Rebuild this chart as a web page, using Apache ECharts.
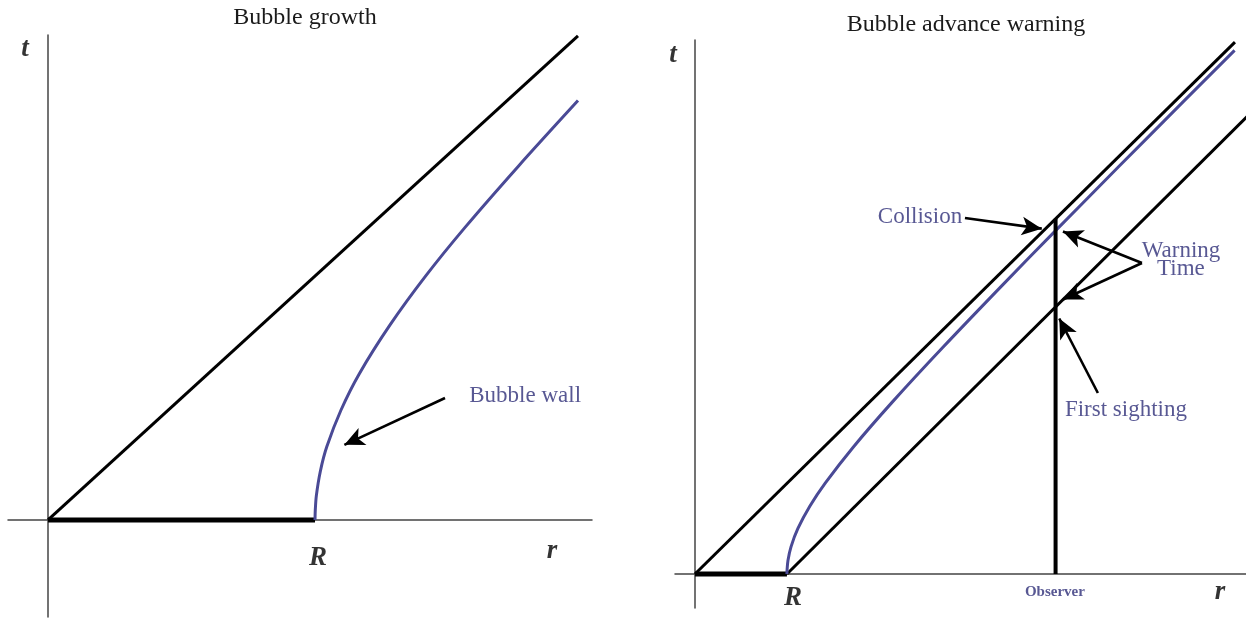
<!DOCTYPE html>
<html>
<head>
<meta charset="utf-8">
<title>Bubble growth / Bubble advance warning</title>
<script src="https://cdn.jsdelivr.net/npm/echarts@6/dist/echarts.min.js"></script>
<style>
  html, body { margin: 0; padding: 0; background: #fff; }
  #chart { width: 1246px; height: 621px; }
</style>
</head>
<body>
<div id="chart"></div>
<script>
// ---- Left diagram: bubble growth (r horizontal, t vertical, R = 1) ----
const growthLightRay = [[0, 0], [1.985, 1.985]];
const growthNucleus = [[0, 0], [1, 0]];
const growthWallT = [0, 0.04, 0.1, 0.2, 0.3, 0.45, 0.6, 0.8, 1.0, 1.2, 1.45, 1.72];
const growthWallR = [1.0, 1.001, 1.005, 1.02, 1.044, 1.097, 1.166, 1.281, 1.414, 1.562, 1.761, 1.985];

// ---- Right diagram: advance warning for a distant observer ----
const warnRayOrigin = [[0, 0], [5.87, 5.87]];
const warnRayEdge = [[1, 0], [6.3, 5.35]];
const warnNucleus = [[0, 0], [1, 0]];
const warnWallT = [0, 0.04, 0.15, 0.3, 0.5, 0.75, 1.0, 1.4, 1.9, 2.5, 3.2, 3.79, 4.5, 5.2, 5.78];
const warnWallR = [1.0, 1.001, 1.011, 1.044, 1.118, 1.25, 1.414, 1.72, 2.147, 2.693, 3.353, 3.92, 4.61, 5.295, 5.866];
const observerR = 3.92;
const observerTop = 3.92;

// annotation text, placed in data units [r, t]
const growthNotes = [
  { name: 'Bubble wall', value: [1.787, 0.509], kind: 'note' },
  { name: 'R', value: [1.011, -0.156], kind: 'sym' },
  { name: 'r', value: [1.888, -0.127], kind: 'sym' },
  { name: 't', value: [-0.086, 1.932], kind: 'sym' }
];
const warnNotes = [
  { name: 'Collision', value: [2.446, 3.94], kind: 'note' },
  { name: 'Warning\nTime', value: [5.283, 3.466], kind: 'note' },
  { name: 'First sighting', value: [4.685, 1.81], kind: 'note' },
  { name: 'Observer', value: [3.913, -0.199], kind: 'small' },
  { name: 'R', value: [1.065, -0.265], kind: 'sym' },
  { name: 'r', value: [5.707, -0.199], kind: 'sym' },
  { name: 't', value: [-0.239, 5.728], kind: 'sym' }
];

// arrows: [from, to] in data units
const growthArrows = [
  [[1.487, 0.5], [1.11, 0.308]]
];
const warnArrows = [
  [[2.935, 3.929], [3.77, 3.812]],
  [[4.859, 3.433], [4.0, 3.78]],
  [[4.859, 3.433], [4.0, 3.03]],
  [[4.38, 1.998], [3.96, 2.82]]
];

const SERIF = "'Liberation Serif', 'Times New Roman', 'DejaVu Serif', serif";
const INK = '#000';
const WALL = '#4a4a96';
const NOTE = '#2e2e78';

function zip(rs, ts) { return rs.map((r, i) => [r, ts[i]]); }

function axisPair(gi, xmin, xmax, ymin, ymax) {
  const common = {
    type: 'value', gridIndex: gi,
    axisLine: { onZero: true, lineStyle: { color: '#444', width: 1.5 } },
    axisTick: { show: false }, axisLabel: { show: false }, splitLine: { show: false }
  };
  return [
    Object.assign({ min: xmin, max: xmax }, common),
    Object.assign({ min: ymin, max: ymax }, common)
  ];
}

function straight(gi, data, width, color) {
  return {
    type: 'line', xAxisIndex: gi, yAxisIndex: gi, data: data,
    showSymbol: false, symbol: 'none', silent: true,
    lineStyle: { color: color || INK, width: width }, z: 3
  };
}

function arrows(gi, list) {
  return {
    type: 'line', xAxisIndex: gi, yAxisIndex: gi, data: [], silent: true,
    markLine: {
      silent: true, animation: false,
      symbol: ['none', 'arrow'], symbolSize: [14, 20],
      label: { show: false },
      lineStyle: { color: INK, width: 2.6, type: 'solid' },
      emphasis: { disabled: true },
      data: list.map(a => [{ coord: a[0] }, { coord: a[1] }])
    }
  };
}

function notes(gi, list) {
  return {
    type: 'scatter', xAxisIndex: gi, yAxisIndex: gi, symbolSize: 0, silent: true, clip: false, z: 5,
    data: list.map(n => {
      let style;
      if (n.kind === 'note') style = { fontSize: 23, color: NOTE, fontFamily: SERIF, lineHeight: 18 };
      else if (n.kind === 'small') style = { fontSize: 15, color: NOTE, fontFamily: SERIF, fontWeight: 'bold' };
      else style = { fontSize: 27, color: INK, fontFamily: SERIF, fontWeight: 'bold', fontStyle: 'italic' };
      return {
        name: n.name, value: n.value,
        label: Object.assign({ show: true, position: 'inside', formatter: '{b}', align: 'center', verticalAlign: 'middle' }, style)
      };
    })
  };
}

const ax0 = axisPair(0, -0.15, 2.0375, -0.398, 1.989);
const ax1 = axisPair(1, -0.217, 5.99, -0.375, 5.894);

const option = {
  animation: false,
  backgroundColor: '#fff',
  title: [
    { text: 'Bubble growth', left: 300, top: 1, textAlign: 'center',
      textStyle: { fontFamily: SERIF, fontSize: 24, fontWeight: 'normal', color: '#1a1a1a' } },
    { text: 'Bubble advance warning', left: 961, top: 8, textAlign: 'center',
      textStyle: { fontFamily: SERIF, fontSize: 24, fontWeight: 'normal', color: '#1a1a1a' } }
  ],
  grid: [
    { left: 8, top: 35, width: 584, height: 582 },
    { left: 675, top: 40, width: 571, height: 568 }
  ],
  xAxis: [ax0[0], ax1[0]],
  yAxis: [ax0[1], ax1[1]],
  series: [
    straight(0, growthLightRay, 3),
    straight(0, growthNucleus, 5),
    Object.assign(straight(0, zip(growthWallR, growthWallT), 3, WALL), { smooth: 0.3 }),
    arrows(0, growthArrows),
    notes(0, growthNotes),

    straight(1, warnRayOrigin, 3),
    straight(1, warnRayEdge, 3),
    straight(1, warnNucleus, 5),
    Object.assign(straight(1, zip(warnWallR, warnWallT), 3, WALL), { smooth: 0.3 }),
    straight(1, [[observerR, 0], [observerR, observerTop]], 4),
    arrows(1, warnArrows),
    notes(1, warnNotes)
  ]
};

echarts.init(document.getElementById('chart'), null, { renderer: 'canvas' }).setOption(option);
</script>
</body>
</html>
